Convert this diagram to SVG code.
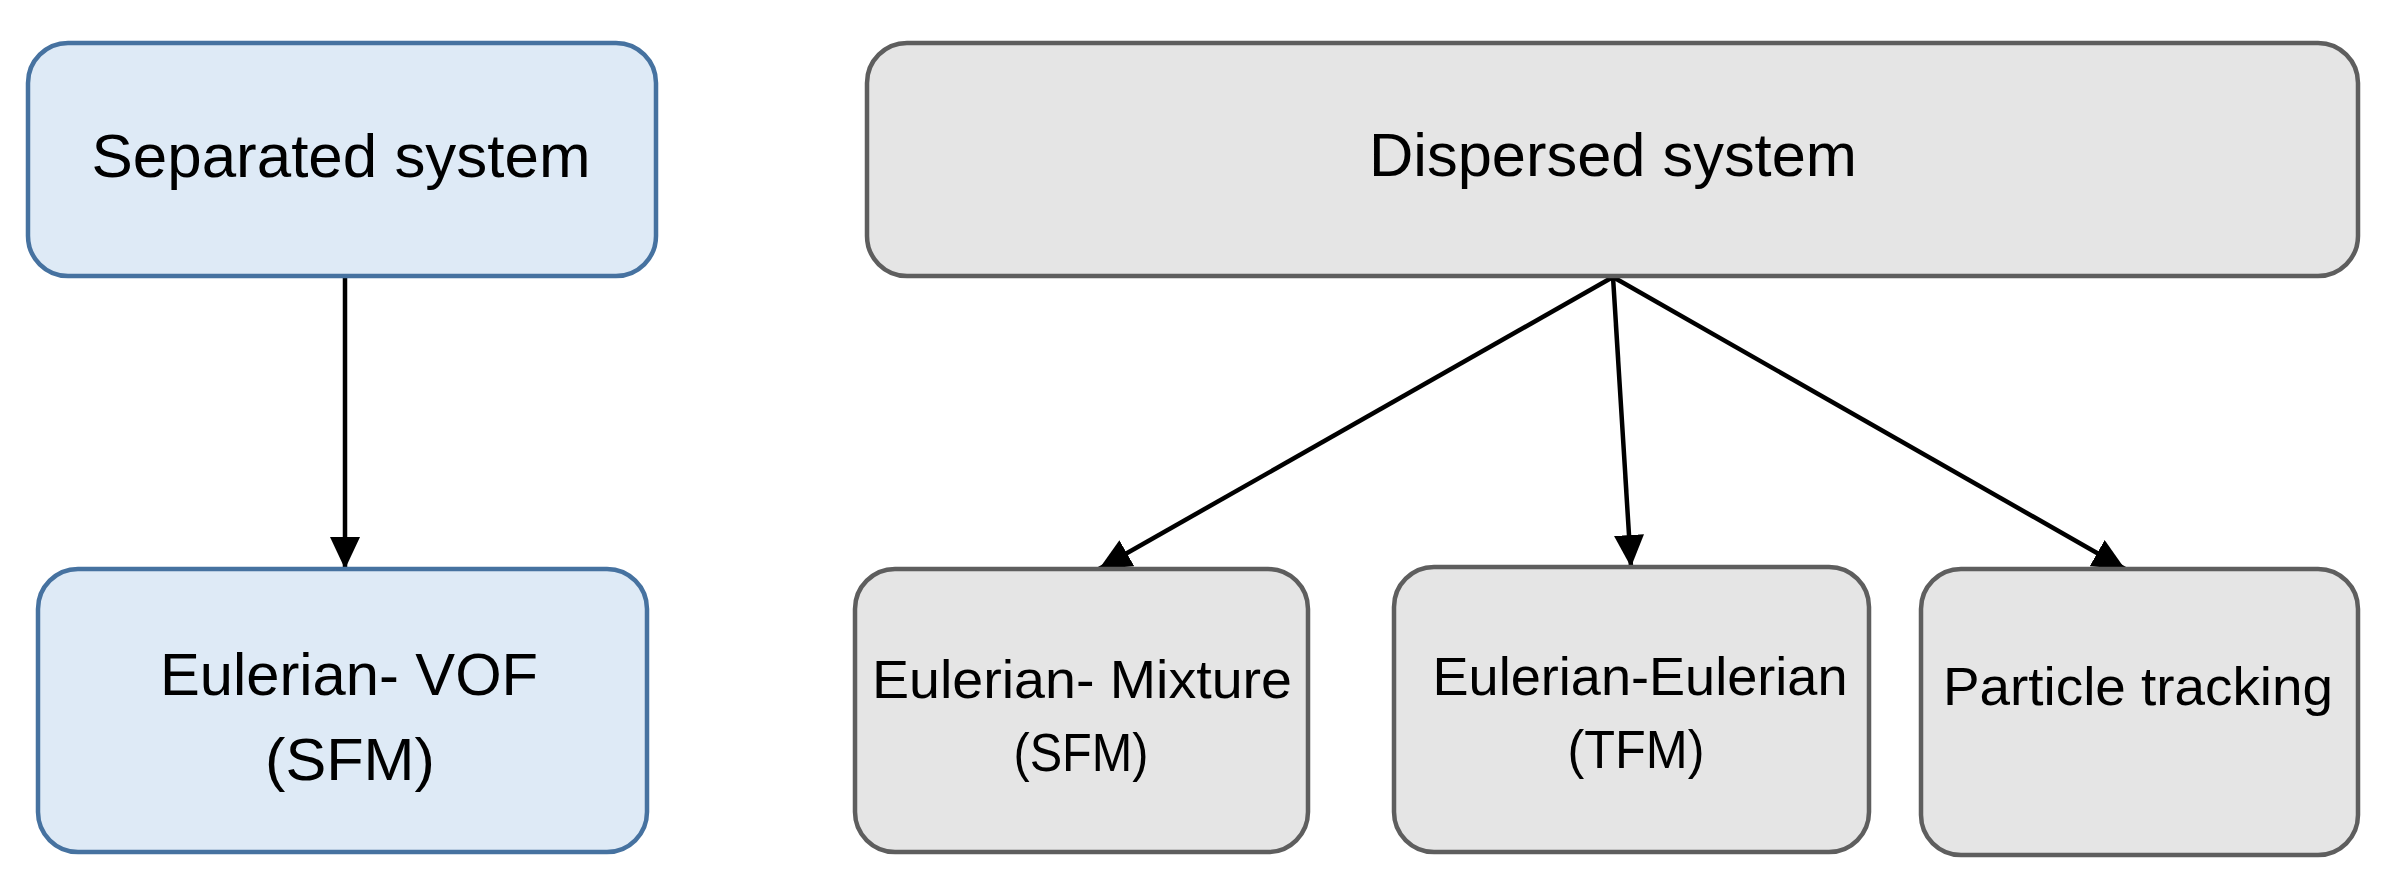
<svg xmlns="http://www.w3.org/2000/svg" width="2391" height="879" viewBox="0 0 2391 879">
<style>
.blue{fill:#DEEAF6;stroke:#4672A0;stroke-width:4.5}
.gray{fill:#E5E5E5;stroke:#5E5E5E;stroke-width:4.5}
.t{font-family:"Liberation Sans",Arial,sans-serif;fill:#000;text-anchor:middle}
.lg{font-size:61px}
.md{font-size:59px}
.sm{font-size:54px}
.c{stroke:#000;stroke-width:4.5;fill:none}
</style>
<defs>
<marker id="ah" markerUnits="userSpaceOnUse" markerWidth="32" markerHeight="30" viewBox="0 0 32 30" refX="32" refY="15" orient="auto">
<path d="M0,0 L32,15 L0,30 Z" fill="#000"/>
</marker>
</defs>
<rect width="2391" height="879" fill="#fff"/>
<g id="connectors">
<line class="c" x1="345" y1="277" x2="345" y2="569" marker-end="url(#ah)"/>
<line class="c" x1="1613" y1="277" x2="1099" y2="569" marker-end="url(#ah)"/>
<line class="c" x1="1613" y1="277" x2="1631" y2="567" marker-end="url(#ah)"/>
<line class="c" x1="1613" y1="277" x2="2125" y2="569" marker-end="url(#ah)"/>
</g>
<g id="separated">
<rect class="blue" x="28" y="43" width="628" height="233" rx="40"/>
<text class="t lg" x="341" y="177" textLength="499" lengthAdjust="spacingAndGlyphs">Separated system</text>
</g>
<g id="vof">
<rect class="blue" x="38" y="569" width="609" height="283" rx="40"/>
<text class="t md" x="349" y="695" textLength="378" lengthAdjust="spacingAndGlyphs">Eulerian- VOF</text>
<text class="t md" x="350" y="780" textLength="170" lengthAdjust="spacingAndGlyphs">(SFM)</text>
</g>
<g id="dispersed">
<rect class="gray" x="867" y="43" width="1491" height="233" rx="40"/>
<text class="t lg" x="1613" y="176" textLength="488" lengthAdjust="spacingAndGlyphs">Dispersed system</text>
</g>
<g id="mixture">
<rect class="gray" x="855" y="569" width="453" height="283" rx="40"/>
<text class="t sm" x="1082" y="698" textLength="420" lengthAdjust="spacingAndGlyphs">Eulerian- Mixture</text>
<text class="t sm" x="1081" y="771" textLength="135" lengthAdjust="spacingAndGlyphs">(SFM)</text>
</g>
<g id="eulerian">
<rect class="gray" x="1394" y="567" width="475" height="285" rx="40"/>
<text class="t sm" x="1640" y="695" textLength="415" lengthAdjust="spacingAndGlyphs">Eulerian-Eulerian</text>
<text class="t sm" x="1636" y="768" textLength="137" lengthAdjust="spacingAndGlyphs">(TFM)</text>
</g>
<g id="particle">
<rect class="gray" x="1921" y="569" width="437" height="286" rx="40"/>
<text class="t sm" x="2138" y="705" textLength="390" lengthAdjust="spacingAndGlyphs">Particle tracking</text>
</g>
</svg>
